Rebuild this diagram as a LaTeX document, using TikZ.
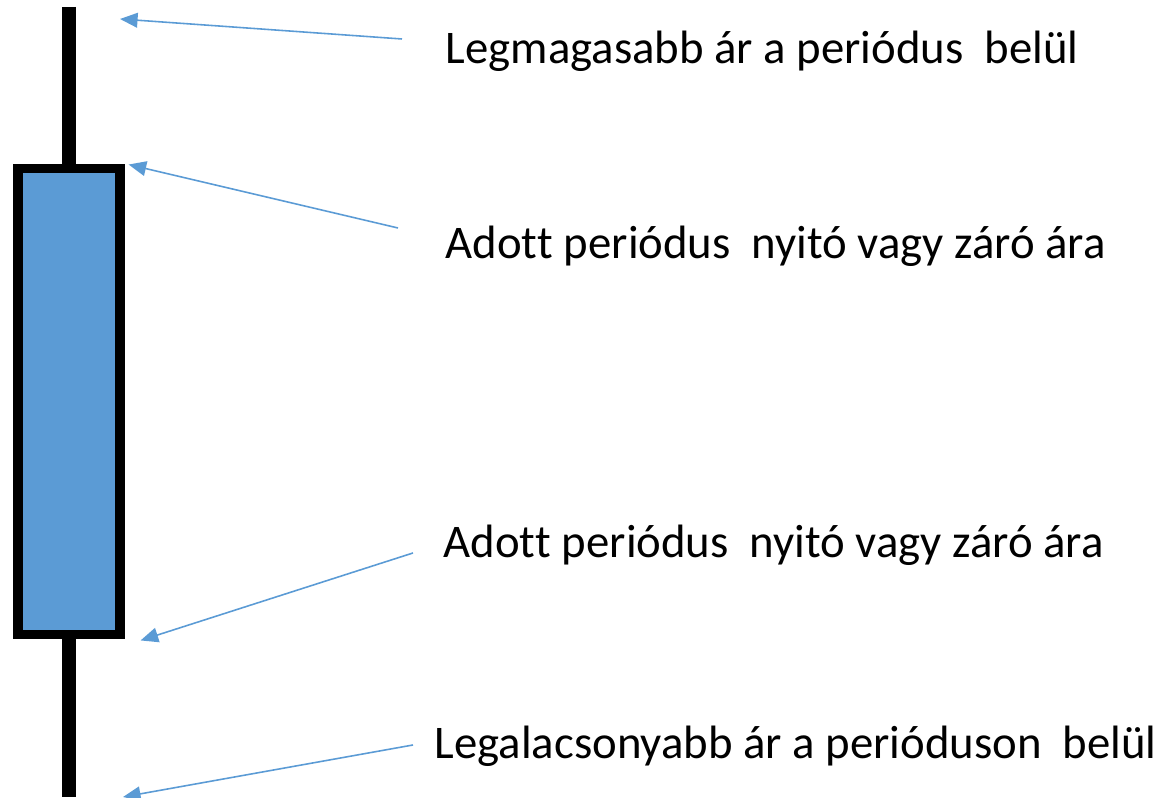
\documentclass[tikz,border=0pt]{standalone}
\usepackage{fontspec}
\setmainfont{Carlito}[Ligatures={NoCommon}]
\usepackage{tikz}
\usetikzlibrary{positioning,calc,arrows.meta}
\definecolor{candleblue}{HTML}{5B9BD5}
\tikzset{
    every node/.style={font=\fontsize{13.3pt}{16pt}\selectfont},
    bodybox/.style={draw=black, fill=candleblue, line width=2.6pt, minimum width=1.02cm, minimum height=4.665cm, inner sep=0pt},
    wick/.style={line width=3.7pt},
    label/.style={anchor=base west, inner sep=0pt},
    arrow/.style={-{Triangle[length=5pt, width=4.2pt]}, candleblue, line width=0.45pt},
}
\newcommand{\adott}{Adot\kern0pt{}t}

\begin{document}
\begin{tikzpicture}[x=0.01cm, y=-0.01cm]
\useasboundingbox (0,0) rectangle (1162,798);
% the wick behind the body
\coordinate (wicktop) at (69,7);
\coordinate (wickbot) at (69,797);
\draw[wick] (wicktop) -- (wickbot);
\node[bodybox] (body) at (69,401.5) {};
% texts on the right
\node[label] (high) at (445,64) {Legmagasabb ár a periódus\ \ belül};
\node[label] (upper) at (445,259) {\adott{} periódus\ \ nyitó vagy záró ára};
\node[label] (lower) at (443,558) {\adott{} periódus\ \ nyitó vagy záró ára};
\node[label] (low) at (434,759) {Legalacsonyabb ár a perióduson\ \ belül};
% arrows from the texts to the candle
\coordinate (hightail) at (402,39);
\coordinate (hightip) at (120,19);
\coordinate (uppertail) at (398,228);
\coordinate (uppertip) at ($(body.north east)+(4,1)$);
\coordinate (lowertail) at (413,553);
\coordinate (lowertip) at ($(body.south east)+(16,1)$);
\coordinate (lowtail) at (413,745);
\coordinate (lowtip) at (123,797);
\draw[arrow] (hightail) -- (hightip);
\draw[arrow] (uppertail) -- (uppertip);
\draw[arrow] (lowertail) -- (lowertip);
\draw[arrow] (lowtail) -- (lowtip);
\end{tikzpicture}
\end{document}
